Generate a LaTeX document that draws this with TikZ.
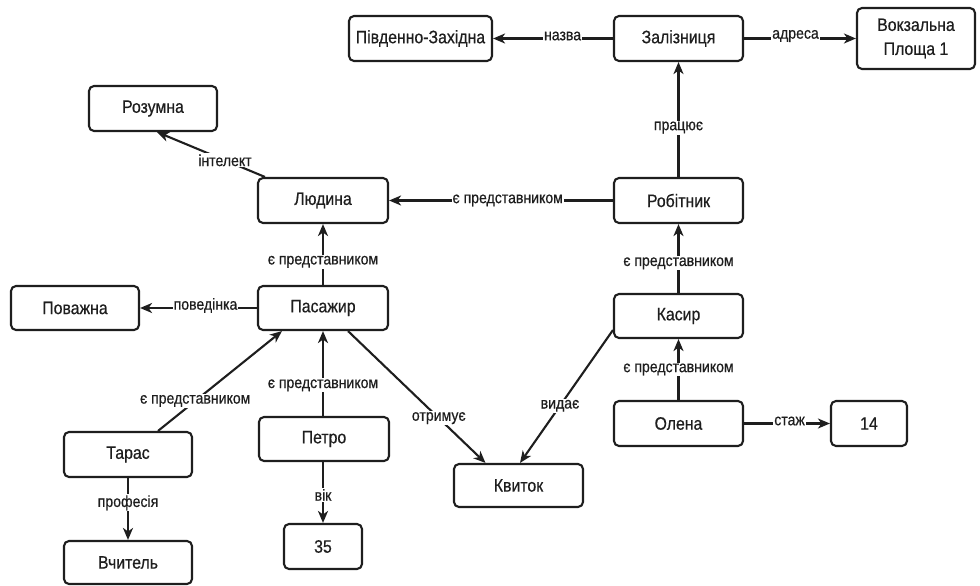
\documentclass[tikz,border=0pt]{standalone}
\usepackage{fontspec}
\setmainfont{Liberation Sans}[FakeStretch=0.88,FakeBold=0.5]
\usetikzlibrary{arrows.meta}
\definecolor{ink}{HTML}{1E1E1E}
\begin{document}
\begin{tikzpicture}[x=1pt,y=-1pt,
  box/.style={draw=ink,line width=2.1pt,rounded corners=5pt,fill=white,
    minimum width=129pt,minimum height=45pt,inner sep=2pt,align=center,
    font=\fontsize{18}{20}\selectfont,text=ink},
  conn/.style={draw=ink,line width=2.1pt,-{Stealth[length=12pt,width=10pt,inset=3.5pt]}},
  lbl/.style={fill=white,inner sep=1pt,font=\fontsize{16}{18}\selectfont,text=ink},
  hl/.style={lbl,yshift=2.5pt}]
\useasboundingbox (0,0) rectangle (980,586);
% nodes
\node[box,minimum width=143pt] (pz) at (420.5,38.5) {Південно-Західна};
\node[box] (zal) at (678.5,38.5) {Залізниця};
\node[box,minimum width=118pt,minimum height=61pt,font=\fontsize{18}{24}\selectfont] (vok) at (916,38.5) {Вокзальна\\Площа 1};
\node[box,minimum width=128pt] (roz) at (153,108.5) {Розумна};
\node[box,minimum width=130pt] (lud) at (323,200.5) {Людина};
\node[box] (rob) at (678.5,200.5) {Робітник};
\node[box,minimum width=128pt,minimum height=44pt] (pov) at (75,308) {Поважна};
\node[box,minimum width=130pt,minimum height=44pt] (pas) at (323,308) {Пасажир};
\node[box,minimum height=44pt] (kas) at (678.5,316) {Касир};
\node[box,minimum width=128pt] (tar) at (128,454.5) {Тарас};
\node[box,minimum width=130pt,minimum height=44pt] (pet) at (324,439) {Петро};
\node[box,minimum height=43pt] (kv) at (518.5,485.5) {Квиток};
\node[box] (ol) at (678.5,423.5) {Олена};
\node[box,minimum width=76pt] (n14) at (869,423.5) {14};
\node[box,minimum width=128pt,minimum height=43pt] (vch) at (128,562.5) {Вчитель};
\node[box,minimum width=78pt] (n35) at (323,546.5) {35};
% connectors
\draw[conn] (zal) -- node[hl,pos=0.42] {назва} (pz);
\draw[conn] (zal) -- node[hl,pos=0.46] {адреса} (vok);
\draw[conn] (rob) -- node[lbl,pos=0.43] {працює} (zal);
\draw[conn] ([xshift=8pt]lud.north west) -- node[lbl,pos=0.37] {інтелект} ([xshift=4pt]roz.south);
\draw[conn] (rob) -- node[lbl,pos=0.47] {є представником} (lud);
\draw[conn] (pas) -- node[lbl,pos=0.38] {є представником} (lud);
\draw[conn] (pas) -- node[hl,pos=0.44] {поведінка} (pov);
\draw[conn] ([xshift=30pt]tar.north) -- node[lbl,pos=0.3] {є представником} ([xshift=-41pt]pas.south);
\draw[conn] ([xshift=-1pt]pet.north) -- node[lbl,pos=0.36] {є представником} (pas.south);
\draw[conn] ([xshift=25pt]pas.south) -- node[lbl,pos=0.66] {отримує} ([xshift=-33pt]kv.north);
\draw[conn] ([yshift=9pt]kas.south west) -- node[lbl,pos=0.57] {видає} ([xshift=1.5pt]kv.north);
\draw[conn] (kas) -- node[lbl,pos=0.43] {є представником} (rob);
\draw[conn] (ol) -- node[lbl,pos=0.5] {є представником} (kas);
\draw[conn] (ol) -- node[hl,pos=0.53] {стаж} (n14);
\draw[conn] (tar) -- node[lbl,pos=0.4] {професія} (vch);
\draw[conn] ([xshift=-1pt]pet.south) -- node[lbl,pos=0.54] {вік} (n35);
\end{tikzpicture}
\end{document}
